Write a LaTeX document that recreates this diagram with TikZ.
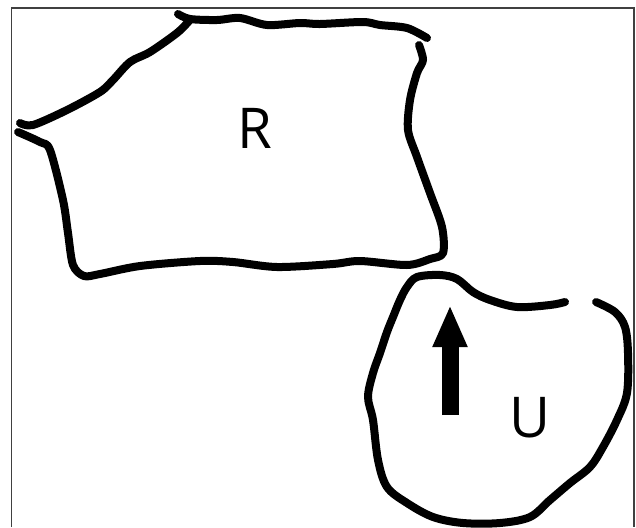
\documentclass[tikz,border=0pt]{standalone}
\usepackage{fontspec}
\setmainfont{Open Sans}
\usetikzlibrary{arrows.meta, positioning}

\begin{document}
\begin{tikzpicture}[
  x={(0.025cm,0)}, y={(0,-0.025cm)},
  stroke/.style={line width=0.2cm, black, line cap=round, line join=round},
  frame/.style={line width=0.04cm, black!75},
  tag/.style={font=\fontsize{40}{40}\selectfont, inner sep=0pt},
  bigarrow/.style={line width=0.425cm, -{Triangle[width=0.8cm, length=1.05cm]}}
]
\useasboundingbox (0,0) rectangle (636,527);

% --- frame ---
\draw[frame] (11.5,527) -- (11.5,8) -- (634,8) -- (634,527);

% --- region R ---
\draw[stroke] plot[smooth, tension=0.5] coordinates {
  (178,14) (190,19) (217,20) (240,18) (267,25) (300,23) (320,24)
  (363,22) (380,25) (407,28) (427,38)};
\draw[stroke] plot[smooth, tension=0.5] coordinates {
  (189,21) (177,33) (150,52) (130,62) (113,80) (100,92) (67,110) (33,125) (20,123)};
\draw[stroke] plot[smooth, tension=0.5] coordinates {
  (419,45) (423,60) (417,73) (410,100) (408,130) (417,157) (430,193)
  (442,227) (443,253) (430,259) (407,265) (360,261) (333,264) (277,267)
  (233,262) (200,261) (140,266) (100,274) (84,276) (73,265) (68,233)
  (63,200) (50,150) (40,142) (18,132)};

% --- region U ---
\draw[stroke] plot[smooth, tension=0.55] coordinates {
  (565,302) (550,305) (517,307) (490,300) (473,292) (457,279) (440,275)
  (417,277) (407,287) (400,300) (393,317) (387,332) (380,353) (373,373)
  (368,397) (373,420) (378,460) (387,487) (407,503) (433,517) (463,523)
  (500,523) (530,517) (550,500) (570,483) (590,467) (603,447) (617,420)
  (627,393) (628,353) (625,327) (615,312) (596,302)};

% --- labels and arrow ---
\node[tag] (labelR) at (255,128) {R};
\node[tag] (labelU) at (530,418) {U};
\coordinate (tail) at (450,415);
\coordinate (tip) at (450,305);
\draw[bigarrow] (tail) -- (tip);

\end{tikzpicture}
\end{document}
